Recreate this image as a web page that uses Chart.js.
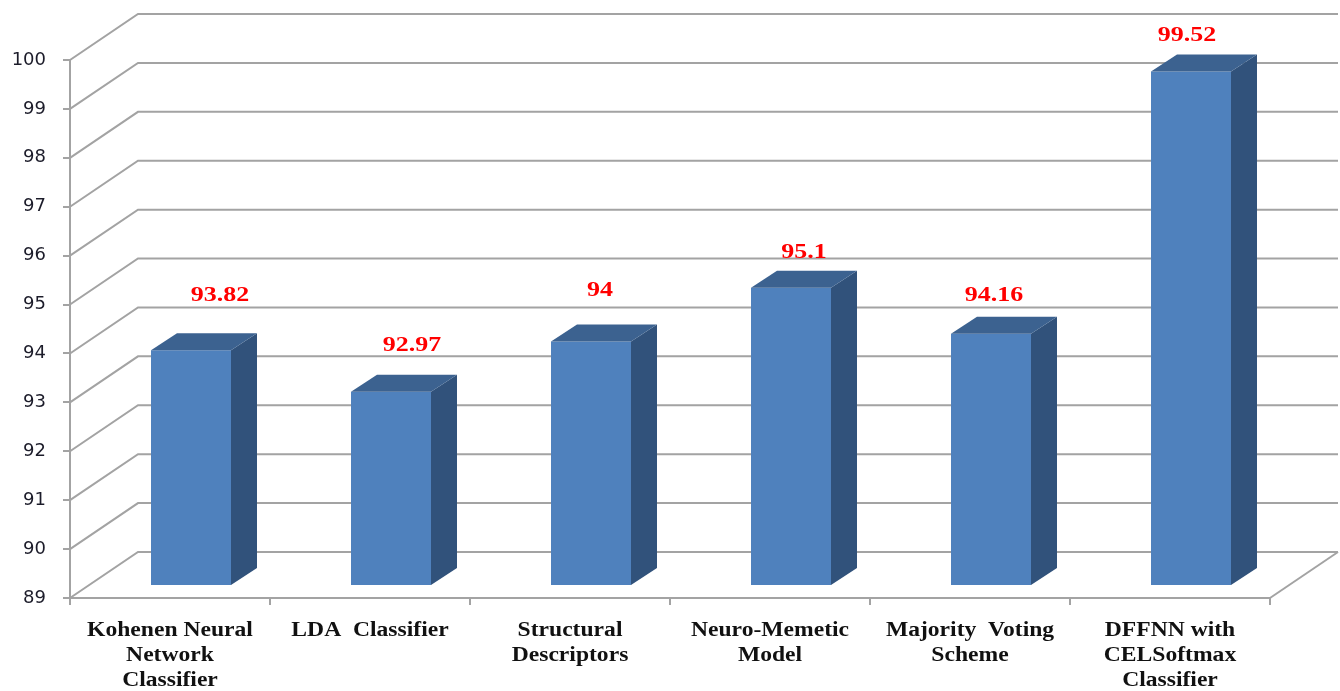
<!DOCTYPE html>
<html>
<head>
<meta charset="utf-8">
<title>Classifier accuracy</title>
<script src="https://cdn.jsdelivr.net/npm/chart.js@4.4.1/dist/chart.umd.min.js"></script>
<style>
  html, body { margin: 0; padding: 0; background: #fff; }
  #wrap { width: 1340px; height: 691px; }
</style>
</head>
<body>
<div id="wrap"><canvas id="chart"></canvas></div>
<script>
// Data
const categories = [
    ['Kohenen Neural', 'Network', 'Classifier'],
    ['LDA  Classifier'],
    ['Structural', 'Descriptors'],
    ['Neuro-Memetic', 'Model'],
    ['Majority  Voting', 'Scheme'],
    ['DFFNN with', 'CELSoftmax', 'Classifier']
];
const accuracy = [93.82, 92.97, 94, 95.1, 94.16, 99.52];
const valueLabels = ['93.82', '92.97', '94', '95.1', '94.16', '99.52'];
const yMin = 89;
const yMax = 100;
const yStep = 1;

// 3D look (pixels)
const WALL = { dx: 68, dy: -46 };       // depth of the back wall
const BAR_SHIFT = { dx: 21, dy: -12 };  // bar front plane inside the box
const BAR_DEPTH = { dx: 26, dy: -17 };
// hand-placed value labels, relative to bar front-top centre
const LABEL_NUDGE = [[29, -54], [21, -46], [9, -50], [13, -34], [3, -37], [-4, -35]];
const TEXT_STRETCH = 1.18; // the source picture is a little wide

const GRID = '#a3a3a3';
const FRONT = '#4f81bd';
const SIDE = '#31527b';
const TOP = '#3c6290';
const SERIF = '"Liberation Serif", "Times New Roman", serif';

function stretchedText(ctx, text, x, y) {
    ctx.save();
    ctx.translate(x, y);
    ctx.scale(TEXT_STRETCH, 1);
    ctx.fillText(text, 0, 0);
    ctx.restore();
}

const box3d = {
    id: 'box3d',
    beforeDatasetsDraw(chart) {
        const { ctx, chartArea: a } = chart;
        const y = chart.scales.y;
        ctx.save();
        ctx.strokeStyle = GRID;
        ctx.lineWidth = 2;
        y.ticks.forEach(t => {
            const py = y.getPixelForValue(t.value);
            ctx.beginPath();
            ctx.moveTo(a.left, py);
            ctx.lineTo(a.left + WALL.dx, py + WALL.dy);
            ctx.lineTo(a.right + WALL.dx, py + WALL.dy);
            ctx.stroke();
        });
        // right edge of the floor
        ctx.beginPath();
        ctx.moveTo(a.right, a.bottom);
        ctx.lineTo(a.right + WALL.dx, a.bottom + WALL.dy);
        ctx.stroke();
        ctx.restore();

        // bars sit a bit deeper than the front axis plane
        ctx.save();
        ctx.translate(BAR_SHIFT.dx, BAR_SHIFT.dy);
    },
    afterDatasetsDraw(chart) {
        const ctx = chart.ctx;
        const meta = chart.getDatasetMeta(0);
        meta.data.forEach(bar => {
            const { x, y, base, width } = bar.getProps(['x', 'y', 'base', 'width'], true);
            const r = x + width / 2;
            const l = x - width / 2;
            // side face
            ctx.fillStyle = SIDE;
            ctx.beginPath();
            ctx.moveTo(r, y);
            ctx.lineTo(r + BAR_DEPTH.dx, y + BAR_DEPTH.dy);
            ctx.lineTo(r + BAR_DEPTH.dx, base + BAR_DEPTH.dy);
            ctx.lineTo(r, base);
            ctx.closePath();
            ctx.fill();
            // top face
            ctx.fillStyle = TOP;
            ctx.beginPath();
            ctx.moveTo(l, y);
            ctx.lineTo(l + BAR_DEPTH.dx, y + BAR_DEPTH.dy);
            ctx.lineTo(r + BAR_DEPTH.dx, y + BAR_DEPTH.dy);
            ctx.lineTo(r, y);
            ctx.closePath();
            ctx.fill();
        });
        ctx.restore();

        // value labels
        ctx.save();
        ctx.font = 'bold 22px ' + SERIF;
        ctx.fillStyle = '#ff0000';
        ctx.textAlign = 'center';
        ctx.textBaseline = 'middle';
        meta.data.forEach((bar, i) => {
            const cx = bar.x + BAR_SHIFT.dx + LABEL_NUDGE[i][0];
            const cy = bar.y + BAR_SHIFT.dy + LABEL_NUDGE[i][1] - 2;
            stretchedText(ctx, valueLabels[i], cx, cy + 1);
        });
        ctx.restore();
    },
    afterDraw(chart) {
        // category labels, drawn at the x scale's tick positions
        const { ctx, chartArea: a } = chart;
        const xs = chart.scales.x;
        ctx.save();
        ctx.font = 'bold 20px ' + SERIF;
        ctx.fillStyle = '#111';
        ctx.textAlign = 'center';
        ctx.textBaseline = 'middle';
        categories.forEach((lines, i) => {
            const cx = xs.getPixelForValue(i);
            lines.forEach((line, k) => stretchedText(ctx, line, cx, a.bottom + 33 + k * 25));
        });
        ctx.restore();
    }
};

new Chart(document.getElementById('chart'), {
    type: 'bar',
    data: {
        labels: categories,
        datasets: [{
            data: accuracy,
            base: yMin,
            backgroundColor: FRONT,
            borderWidth: 0,
            categoryPercentage: 1,
            barPercentage: 0.4,
            clip: false
        }]
    },
    options: {
        responsive: true,
        maintainAspectRatio: false,
        animation: false,
        layout: { padding: { top: 60, right: 70, left: 0, bottom: 0 } },
        plugins: {
            legend: { display: false },
            tooltip: { enabled: false }
        },
        scales: {
            x: {
                grid: { drawOnChartArea: false, drawTicks: true, tickLength: 7, color: GRID, lineWidth: 2, offset: true },
                border: { color: GRID, width: 2 },
                ticks: { display: false },
                afterFit: (scale) => { scale.height = 93; }
            },
            y: {
                min: yMin,
                max: yMax,
                grid: { drawOnChartArea: false, drawTicks: true, tickLength: 7, color: GRID, lineWidth: 2 },
                border: { color: GRID, width: 2 },
                ticks: {
                    stepSize: yStep,
                    color: '#1c1c2a',
                    font: { family: '"DejaVu Sans", Verdana, sans-serif', size: 18 },
                    padding: 17
                },
                afterFit: (scale) => { scale.width = 70; }
            }
        }
    },
    plugins: [box3d]
});
</script>
</body>
</html>
